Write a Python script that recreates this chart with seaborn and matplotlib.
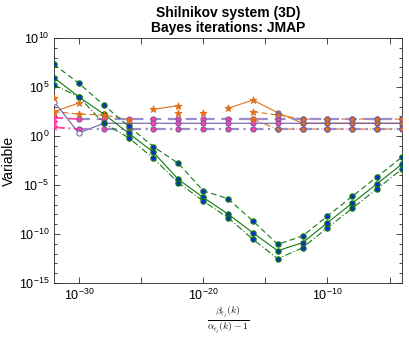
import numpy as np
import pandas as pd
import matplotlib
matplotlib.use("Agg")
import matplotlib.pyplot as plt
from matplotlib.ticker import FixedLocator, FixedFormatter, NullFormatter
import seaborn as sns

# x positions (ratio beta/(alpha-1))
x_vals = [1e-32, 1e-30, 1e-28, 1e-26, 1e-24, 1e-22, 1e-20, 1e-18,
          1e-16, 1e-14, 1e-12, 1e-10, 1e-8, 1e-6, 1e-4]

# values, as log10 exponents
green_dash = [7.3, 5.38, 3.16, 1.0, -1.09, -2.79, -5.58, -6.4, -8.67, -11.05, -10.2, -8.16, -6.16, -4.15, -2.14]
green_solid = [5.95, 4.0, 2.24, 0.3, -1.66, -4.42, -6.26, -7.96, -9.87, -11.7, -10.88, -8.84, -6.84, -4.86, -2.86]
green_dashdot = [5.2, 4.0, 1.3, -0.17, -2.28, -4.77, -6.63, -8.33, -10.54, -12.52, -11.4, -9.35, -7.38, -5.37, -3.37]

purple_dash = [np.nan, 1.73, 1.73, 1.73, 1.73, 1.73, 1.73, 1.73, 1.73, 1.73, 1.73, 1.73, 1.73, 1.73, 1.73]
purple_solid = [3.5, 0.3, 1.3, 1.3, 1.3, 1.3, 1.3, 1.3, 1.3, 1.3, 1.3, 1.3, 1.3, 1.3, 1.3]
purple_dashdot = [np.nan, 0.71, 0.71, 0.71, 0.71, 0.71, 0.71, 0.71, 0.71, 0.71, 0.71, 0.71, 0.71, 0.71, 0.71]

pink_dash = [1.87, 1.73]
pink_solid = [1.4]
pink_dashdot = [0.89, 0.71]

orange_solid = [2.48, 3.37, np.nan, np.nan, 2.72, 3.09, np.nan, 2.82, 3.67, 2.38, 1.3, 1.3, 1.3, 1.3, 1.3]
orange_dash = [2.48, 2.24, 2.14, 1.68, np.nan, 2.32, np.nan, np.nan, 2.48, 2.14, 1.73, 1.73, 1.73, 1.73, 1.73]
orange_dashdot = [3.85, np.nan, np.nan, np.nan, np.nan, np.nan, 2.32, np.nan, 1.7, 0.71, 0.71, 0.71, 0.71, 0.71, 0.71]

GREEN = "#117a11"
BLUE = "#0a2fd0"
PURPLE = "#6b5aa6"
LAVENDER = "#9b8dc8"
PINK = "#ff3fa4"
ORANGE = "#e0711c"

plt.rcParams["font.family"] = ["Liberation Sans", "DejaVu Sans"]
plt.rcParams["mathtext.fontset"] = "cm"

fig = plt.figure(figsize=(4.09, 3.39), dpi=100)
ax = fig.add_axes([0.132, 0.165, 0.851, 0.723])


def frame(xs, exps):
    df = pd.DataFrame({"x": xs, "e": exps})
    df["seg"] = df["e"].isna().cumsum()
    df = df.dropna()
    df["y"] = np.power(10.0, df["e"])
    return df


def line(xs, exps, color, ls, lw):
    df = frame(xs, exps)
    sns.lineplot(data=df, x="x", y="y", units="seg", estimator=None, ax=ax,
                 color=color, linestyle=ls, linewidth=lw, legend=False)


def dots(xs, exps, marker, face, edge, s, lw=0.7):
    df = frame(xs, exps)
    sns.scatterplot(data=df, x="x", y="y", ax=ax, marker=marker, color=face,
                    edgecolor=edge, s=s, linewidth=lw, legend=False, zorder=3)


DASH = (0, (5, 3))
DASHDOT = (0, (6, 2, 1, 2))

# lines: orange underneath purple
line(x_vals, orange_solid, ORANGE, "-", 0.8)
line(x_vals, orange_dash, ORANGE, DASH, 0.8)
line(x_vals, orange_dashdot, ORANGE, DASHDOT, 0.8)
line(x_vals[:2], pink_dash, PINK, DASH, 1.3)
line(x_vals[:2], pink_dashdot, PINK, DASHDOT, 1.3)
line(x_vals, purple_dash, LAVENDER, DASH, 1.6)
line(x_vals, purple_solid, PURPLE, "-", 0.8)
line(x_vals, purple_dashdot, LAVENDER, DASHDOT, 1.6)
line(x_vals, green_dash, GREEN, DASH, 0.8)
line(x_vals, green_solid, GREEN, "-", 0.8)
line(x_vals, green_dashdot, GREEN, DASHDOT, 0.8)

# markers
CS = 14
for arr in (purple_dash, purple_dashdot):
    dots(x_vals[1:], arr[1:], "o", PINK, PURPLE, CS)
dots(x_vals[2:], purple_solid[2:], "o", PINK, PURPLE, CS)
dots(x_vals[:2], purple_solid[:2], "o", "white", PURPLE, CS)
dots(x_vals[:1], pink_dash[:1], "*", PINK, PINK, 24)
dots(x_vals[:1], pink_solid, "*", PINK, PINK, 24)
dots(x_vals[:1], pink_dashdot[:1], "*", PINK, PINK, 24)

for arr in (green_dash, green_solid, green_dashdot):
    dots(x_vals, arr, "o", BLUE, GREEN, CS, 0.9)

for arr in (orange_solid, orange_dash, orange_dashdot):
    dots(x_vals[:9], arr[:9], "*", ORANGE, ORANGE, 26)
    dots(x_vals[9:], arr[9:], "o", ORANGE, PURPLE, CS)

ax.set_xscale("log")
ax.set_yscale("log")
ax.set_xlim(1e-32, 1e-4)
ax.set_ylim(1e-15, 1e10)

xt = [1e-30, 1e-25, 1e-20, 1e-15, 1e-10, 1e-5]
ax.xaxis.set_major_locator(FixedLocator(xt))
ax.xaxis.set_major_formatter(FixedFormatter([r"$\mathdefault{10^{-30}}$", "", r"$\mathdefault{10^{-20}}$", "",
                                             r"$\mathdefault{10^{-10}}$", ""]))
ax.xaxis.set_minor_locator(FixedLocator([]))
ax.yaxis.set_major_locator(FixedLocator([1e10, 1e5, 1e0, 1e-5, 1e-10, 1e-15]))
ax.yaxis.set_major_formatter(FixedFormatter([r"$\mathdefault{10^{10}}$", r"$\mathdefault{10^{5}}$",
                                             r"$\mathdefault{10^{0}}$", r"$\mathdefault{10^{-5}}$",
                                             r"$\mathdefault{10^{-10}}$", r"$\mathdefault{10^{-15}}$"]))
ax.yaxis.set_minor_locator(FixedLocator([10.0 ** k for k in range(-15, 11)]))
ax.yaxis.set_minor_formatter(NullFormatter())

ax.tick_params(which="both", direction="in", top=True, right=True, colors="#262626",
               labelcolor="black", labelsize=9)
ax.tick_params(which="major", length=4, width=0.6)
ax.tick_params(which="minor", length=2.5, width=0.6)
for sp in ax.spines.values():
    sp.set_color("#262626")
    sp.set_linewidth(0.6)

ax.set_xlabel(r"$\frac{\beta_{\epsilon_j}(k)}{\alpha_{\epsilon_j}(k)-1}$", fontsize=10, labelpad=1)
ax.set_ylabel("Variable", fontsize=10, labelpad=2)
ax.set_title("Shilnikov system (3D)\nBayes iterations: JMAP", fontsize=10,
             fontweight="bold", pad=4, linespacing=1.1)

fig.savefig("out.png", dpi=100)
